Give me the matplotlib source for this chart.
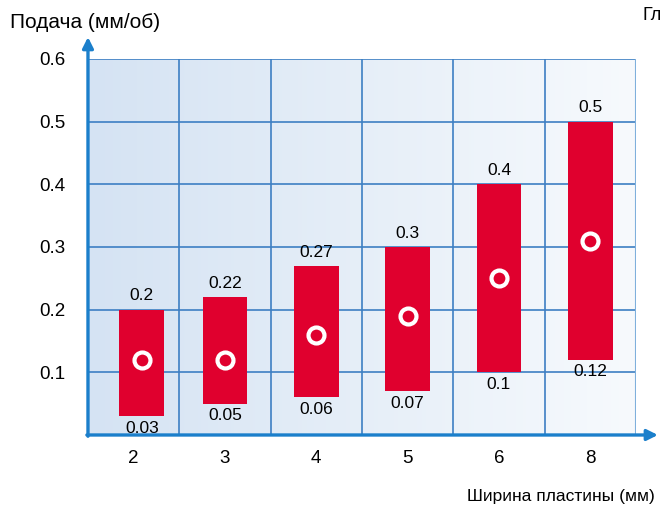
import numpy as np
import matplotlib.pyplot as plt
from matplotlib.colors import LinearSegmentedColormap

plt.rcParams['font.family'] = ['Liberation Sans', 'DejaVu Sans']

# ширина пластины и диапазоны подачи
widths = ["2", "3", "4", "5", "6", "8"]
feed_min = [0.03, 0.05, 0.06, 0.07, 0.1, 0.12]
feed_max = [0.2, 0.22, 0.27, 0.3, 0.4, 0.5]
feed_rec = [0.12, 0.12, 0.16, 0.19, 0.25, 0.31]
yticks = [0.1, 0.2, 0.3, 0.4, 0.5, 0.6]

red = '#e0002e'
blue = '#1b7fcb'
grid_blue = '#3d7fc3'

fig = plt.figure(figsize=(6.6, 5.09), dpi=100)
ax = fig.add_axes([0.1333, 0.1454, 0.8303, 0.7387])

x = np.arange(len(widths)) + 0.5
xbar = x.copy()
xbar[0] += 0.09  # первый столбец чуть правее середины клетки
ax.set_xlim(0, len(widths))
ax.set_ylim(0, 0.6)

# фон с градиентом слева направо
cmap = LinearSegmentedColormap.from_list('bg', ['#d5e3f3', '#f7fafd'])
ax.imshow(np.linspace(0, 1, 256).reshape(1, -1), cmap=cmap, aspect='auto',
          extent=(0, len(widths), 0, 0.6), zorder=0)

for yv in yticks:
    ax.axhline(yv, color=grid_blue, lw=1.2, zorder=1)
for xv in range(1, len(widths)):
    ax.axvline(xv, color=grid_blue, lw=1.2, zorder=1)
ax.axvline(len(widths), color='#7fb0dc', lw=1.5, zorder=1)

heights = np.array(feed_max) - np.array(feed_min)
ax.bar(xbar, heights, bottom=feed_min, width=0.49, color=red, zorder=2)
ax.plot(xbar, feed_rec, 'o', ms=11.5, mfc=red, mec='white', mew=3.0, zorder=3)

for xi, lo, hi in zip(xbar, feed_min, feed_max):
    ax.text(xi, hi + 0.01, f"{hi:g}", ha='center', va='bottom', fontsize=12.5)
    ax.text(xi, lo - 0.007, f"{lo:g}", ha='center', va='top', fontsize=12.5)

for s in ax.spines.values():
    s.set_visible(False)
ax.set_xticks(x)
ax.set_xticklabels(widths, fontsize=13.5)
ax.set_yticks(yticks)
ax.set_yticklabels([f"{v:g}" for v in yticks], fontsize=13.5)
ax.tick_params(length=0)
ax.tick_params(axis='x', pad=11)
ax.tick_params(axis='y', pad=16)

# оси со стрелками
ax.annotate('', xy=(0, 0.635), xytext=(0, -0.002), xycoords='data',
            arrowprops=dict(arrowstyle='-|>', color=blue, lw=2.4,
                            mutation_scale=16, shrinkA=0, shrinkB=0),
            annotation_clip=False, zorder=4)
ax.annotate('', xy=(1.040, 0), xytext=(-0.002, 0), xycoords='axes fraction',
            arrowprops=dict(arrowstyle='-|>', color=blue, lw=2.4,
                            mutation_scale=16, shrinkA=0, shrinkB=0),
            annotation_clip=False, zorder=4)

fig.text(10 / 660, 1 - 23 / 509, "Подача (мм/об)", fontsize=15, va='center', ha='left')
fig.text(655 / 660, 1 - 497 / 509, "Ширина пластины (мм)", fontsize=12.5, va='center', ha='right')
fig.text(642 / 660, 1 - 15 / 509, "Гл", fontsize=13, va='center', ha='left')

fig.savefig('out.png', dpi=100)
